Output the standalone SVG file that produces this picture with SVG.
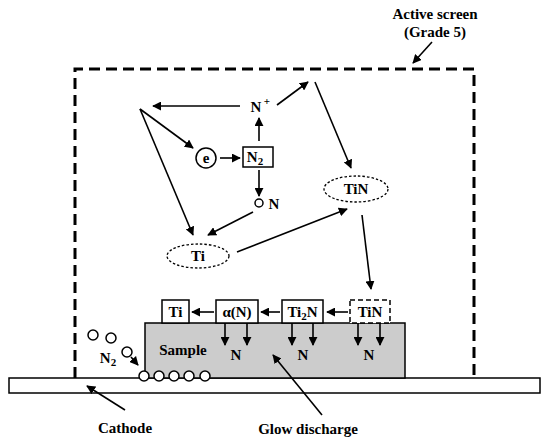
<svg xmlns="http://www.w3.org/2000/svg" width="550" height="441" viewBox="0 0 550 441">
<defs>
<marker id="ah" viewBox="0 0 10 10" refX="9" refY="5" markerWidth="9" markerHeight="9" markerUnits="userSpaceOnUse" orient="auto"><path d="M0,0 L10,5 L0,10 Z" fill="#000"/></marker>
</defs>
<style>
text{font-family:"Liberation Serif","Times New Roman","DejaVu Serif",serif;font-weight:bold;fill:#000}
.t{font-size:15px}
.s{font-size:15px}
.sub{font-size:11px}
.ln{stroke:#000;stroke-width:1.6;fill:none}
.ar{stroke:#000;stroke-width:1.6;fill:none;marker-end:url(#ah)}
.box{fill:#fff;stroke:#000;stroke-width:1.5}
.dot{fill:#fff;stroke:#000;stroke-width:1.5}
.ell{fill:#fff;stroke:#000;stroke-width:1.3;stroke-dasharray:2.5 2}
</style>
<rect width="550" height="441" fill="#fff"/>
<g id="screen">
<path d="M75,378 L75,69 L474,69 L474,378" fill="none" stroke="#000" stroke-width="3" stroke-dasharray="11 6"/>
<text class="t" x="435" y="19" text-anchor="middle">Active screen</text>
<text class="t" x="435" y="37" text-anchor="middle">(Grade 5)</text>
</g>
<g id="cathode">
<rect x="9" y="378" width="531" height="15" fill="#fff" stroke="#000" stroke-width="1.5"/>
<text class="t" x="125" y="433" text-anchor="middle">Cathode</text>
</g>
<g id="sample">
<rect x="145" y="323" width="260" height="55" fill="#cccccc" stroke="#000" stroke-width="1.5"/>
<text class="t" x="183" y="355" text-anchor="middle">Sample</text>
<text class="t" x="236" y="360" text-anchor="middle">N</text>
<text class="t" x="303" y="360" text-anchor="middle">N</text>
<text class="t" x="369" y="360" text-anchor="middle">N</text>
</g>
<g id="glow">
<text class="t" x="308" y="434" text-anchor="middle">Glow discharge</text>
</g>
<g id="box-ti">
<rect class="box" x="162" y="300" width="27" height="23"/>
<text class="s" x="175.5" y="317" text-anchor="middle">Ti</text>
</g>
<g id="box-alpha">
<rect class="box" x="216" y="300" width="42" height="23"/>
<text class="s" x="237" y="317" text-anchor="middle">α(N)</text>
</g>
<g id="box-ti2n">
<rect class="box" x="282" y="300" width="41" height="23"/>
<text class="s" x="302.5" y="317" text-anchor="middle">Ti<tspan class="sub" dy="3">2</tspan><tspan dy="-3">N</tspan></text>
</g>
<g id="box-tin">
<rect x="350" y="300" width="40" height="23" fill="#fff" stroke="#000" stroke-width="1.5" stroke-dasharray="5 3"/>
<text class="s" x="370" y="317" text-anchor="middle">TiN</text>
</g>
<g id="ti-ellipse">
<ellipse class="ell" cx="198" cy="256" rx="31" ry="12"/>
<text class="s" x="198" y="261" text-anchor="middle">Ti</text>
</g>
<g id="tin-ellipse">
<ellipse class="ell" cx="356" cy="189" rx="32" ry="13"/>
<text class="s" x="356" y="194" text-anchor="middle">TiN</text>
</g>
<g id="e">
<circle class="dot" cx="206" cy="158" r="10"/>
<text class="s" x="206" y="163" text-anchor="middle">e</text>
</g>
<g id="n2">
<rect class="box" x="243" y="147" width="30" height="20"/>
<text class="s" x="255" y="162" text-anchor="middle">N<tspan class="sub" dy="3">2</tspan></text>
</g>
<g id="nplus">
<text class="s" x="256" y="112" text-anchor="middle">N</text>
<text font-size="11" x="267" y="105" text-anchor="middle">+</text>
</g>
<g id="natom">
<circle class="dot" cx="259" cy="203" r="4"/>
<text class="s" x="274" y="209" text-anchor="middle">N</text>
</g>
<g id="n2-gas">
<circle class="dot" cx="93" cy="335" r="5"/>
<circle class="dot" cx="111" cy="338" r="5"/>
<circle class="dot" cx="127" cy="352" r="5"/>
<text class="s" x="108" y="363" text-anchor="middle">N<tspan class="sub" dy="3">2</tspan></text>
</g>
<g id="adsorbed">
<circle class="dot" cx="144" cy="376" r="5"/>
<circle class="dot" cx="159" cy="376" r="5"/>
<circle class="dot" cx="174" cy="376" r="5"/>
<circle class="dot" cx="189" cy="376" r="5"/>
<circle class="dot" cx="205" cy="376" r="5"/>
</g>
<g id="connectors">
<path class="ar" d="M432,42 L413,63"/>
<path class="ar" d="M125,410 L87,386"/>
<path class="ar" d="M322,415 L273,355"/>
<path class="ar" d="M240,106 L153,106"/>
<path class="ar" d="M277,105 L308,82"/>
<path class="ar" d="M315,82 L351,168"/>
<path class="ar" d="M140,109 L193,148"/>
<path class="ar" d="M140,109 L193,235"/>
<path class="ar" d="M220,158 L240,158"/>
<path class="ar" d="M259,141 L259,118"/>
<path class="ar" d="M259,170 L259,196"/>
<path class="ar" d="M253,212 L208,235"/>
<path class="ar" d="M237,252 L347,209"/>
<path class="ar" d="M362,215 L371,289"/>
<path class="ar" d="M348,312 L327,312"/>
<path class="ar" d="M280,312 L261,312"/>
<path class="ar" d="M214,312 L192,312"/>
<path class="ar" d="M225,323 L225,345"/>
<path class="ar" d="M247,323 L247,345"/>
<path class="ar" d="M292,323 L292,345"/>
<path class="ar" d="M313,323 L313,345"/>
<path class="ar" d="M358,323 L358,345"/>
<path class="ar" d="M380,323 L380,345"/>
<path class="ar" d="M131,357 L138,365"/>
</g>
</svg>
